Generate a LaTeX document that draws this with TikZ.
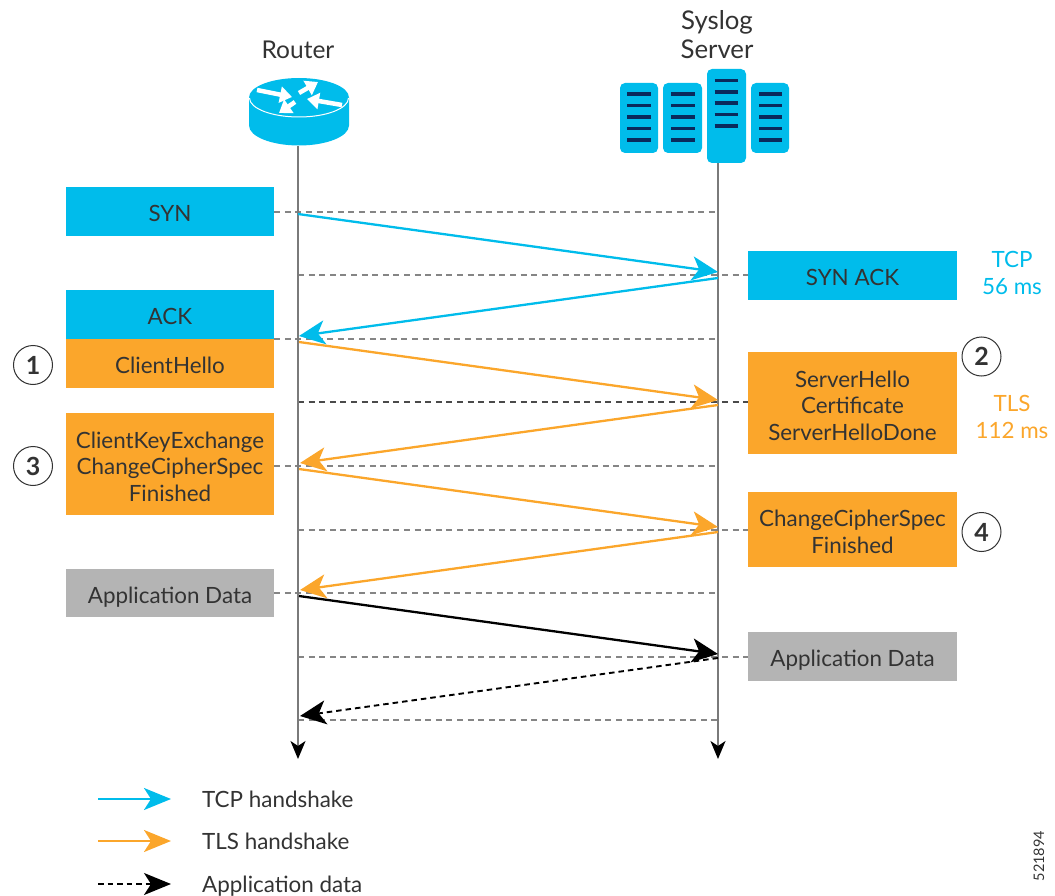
\documentclass[tikz,border=0pt]{standalone}
\usepackage{fontspec}
\setmainfont{Lato}
\usetikzlibrary{arrows.meta}
\definecolor{cblue}{HTML}{00BCEB}
\definecolor{corange}{HTML}{FBA62B}
\definecolor{cgrey}{HTML}{B4B4B4}
\definecolor{cline}{HTML}{7A7A7A}
\definecolor{cdash}{HTML}{858585}
\definecolor{cdashd}{HTML}{4A4A4A}
\definecolor{ctext}{HTML}{333333}
\definecolor{cbar}{HTML}{0A2A5C}
\newcommand{\txt}{\fontsize{22.4}{26.5}\selectfont}
\newcommand{\titletxt}{\fontsize{24.5}{26.5}\selectfont}
\newcommand{\sysltxt}{\fontsize{25.8}{28.8}\selectfont}
\newcommand{\topfix}{\rule{0pt}{21.5pt}}
\tikzset{
  boxbase/.style={minimum width=208.5pt,inner sep=0pt,outer sep=0pt,text=ctext,font=\txt},
  mbox/.style={boxbase,align=center},
  sbox/.style={boxbase,text height=20pt,text depth=0pt},
  lbl/.style={inner sep=0pt,align=center,font=\txt},
  title/.style={inner sep=0pt,align=center,text=ctext,font=\titletxt},
  leg/.style={inner sep=0pt,anchor=west,text=ctext,font=\txt,text height=16pt,text depth=0pt},
  lifeline/.style={draw=cline,line width=2pt,-{Stealth[length=18pt,width=15pt,inset=5pt,color=black]}},
  guide/.style={draw=cdash,line width=1.7pt,dash pattern=on 6pt off 4.6pt},
  guided/.style={guide,draw=cdashd},
  tipk/.style={-{Stealth[length=26pt,width=24pt,inset=7pt]}},
  tcp/.style={draw=cblue,line width=2.3pt,tipk},
  tls/.style={draw=corange,line width=2.3pt,tipk},
  appd/.style={draw=black,line width=2.3pt,tipk},
  appdash/.style={draw=black,line width=1.9pt,dash pattern=on 5.5pt off 4pt,tipk},
  stepnum/.style={draw=ctext,fill=white,circle,line width=1pt,minimum size=39pt,inner sep=0pt,font=\fontsize{25}{25}\selectfont\bfseries,text=ctext},
  rack/.style={fill=cblue,rounded corners=5pt},
  rackbar/.style={draw=cbar,line width=3.4pt},
  whitearrow/.style={draw=white,line width=4.5pt,-{Stealth[length=12pt,width=16pt,inset=0pt]}}
}
\begin{document}
\begin{tikzpicture}[x=1pt,y=-1pt]
\useasboundingbox (0,0) rectangle (1055,896);
\coordinate (rtop) at (298,146);
\coordinate (rend) at (298,759);
\coordinate (stop) at (718,162);
\coordinate (send) at (718,759);
\foreach \n/\y in {1/212,2/275,3/339,4/402,5/466,6/530,7/593,8/657,9/720}{
  \coordinate (r\n) at (298,\y);
  \coordinate (s\n) at (718,\y);
}
% message end points
\coordinate (ma0) at (298,214);  \coordinate (ma1) at (718,272);
\coordinate (mb0) at (718,278);  \coordinate (mb1) at (299,336);
\coordinate (mc0) at (299,342);  \coordinate (mc1) at (718,400);
\coordinate (md0) at (718,405);  \coordinate (md1) at (300,463);
\coordinate (me0) at (299,469);  \coordinate (me1) at (718,527);
\coordinate (mf0) at (718,532);  \coordinate (mf1) at (300,590);
\coordinate (mg0) at (299,596);  \coordinate (mg1) at (718,654);
\coordinate (mh0) at (718,658);  \coordinate (mh1) at (300,716);
% boxes
\node[sbox,fill=cblue,minimum height=49pt] (syn) at (170,211.5) {SYN};
\node[sbox,fill=cblue,minimum height=49pt] (synack) at (852.5,275.5) {SYN ACK};
\node[sbox,fill=cblue,minimum height=49pt] (ack) at (170,314.5) {ACK};
\node[sbox,fill=corange,minimum height=49pt] (chello) at (170,363.5) {ClientHello};
\node[mbox,fill=corange,minimum height=102pt] (shello) at (852.5,403) {\topfix ServerHello\\Certificate\\ServerHelloDone};
\node[mbox,fill=corange,minimum height=102pt] (ckey) at (170,464) {\topfix ClientKeyExchange\\ChangeCipherSpec\\Finished};
\node[mbox,fill=corange,minimum height=75pt] (ccs) at (852.5,529.5) {\topfix ChangeCipherSpec\\Finished};
\node[sbox,fill=cgrey,minimum height=48pt] (appl) at (170,593) {Application Data};
\node[sbox,fill=cgrey,minimum height=49pt] (appr) at (852.5,656.5) {Application Data};
% guides
\draw[guide] (syn.east |- r1) -- (s1);
\draw[guide] (r2) -- (synack.west |- s2);
\draw[guide] (ack.south east) -- (s3);
\draw[guided] (r4) -- (shello.west |- s4);
\draw[guide] (ckey.east |- r5) -- (s5);
\draw[guide] (r6) -- (ccs.west |- s6);
\draw[guide] (appl.east |- r7) -- (s7);
\draw[guide] (r8) -- (appr.west |- s8);
\draw[guide] (r9) -- (s9);
% lifelines
\draw[lifeline] (rtop) -- (rend);
\draw[lifeline] (stop) -- (send);
% messages
\draw[tcp] (ma0) -- (ma1);
\draw[tcp] (mb0) -- (mb1);
\draw[tls] (mc0) -- (mc1);
\draw[tls] (md0) -- (md1);
\draw[tls] (me0) -- (me1);
\draw[tls] (mf0) -- (mf1);
\draw[appd] (mg0) -- (mg1);
\draw[appdash] (mh0) -- (mh1);
% titles
\node[title] (router) at (298,50) {Router};
\node[title,font=\sysltxt] (syslog) at (717,35) {Syslog\\Server};
% router icon
\fill[cblue] (249,97.5) -- (249,125.5) arc[start angle=180,end angle=0,x radius=50,y radius=20] -- (349,97.5) arc[start angle=0,end angle=-180,x radius=50,y radius=19.5] -- cycle;
\draw[white,line width=1pt] (249.5,98) arc[start angle=180,end angle=0,x radius=49.5,y radius=19];
\coordinate (ra1) at (257,90); \coordinate (ra2) at (292,97);
\coordinate (rb1) at (299,93); \coordinate (rb2) at (318,82);
\coordinate (rc1) at (342,105); \coordinate (rc2) at (307,99);
\coordinate (rd1) at (295,102); \coordinate (rd2) at (279,113);
\draw[whitearrow] (ra1) -- (ra2);
\draw[whitearrow] (rb1) -- (rb2);
\draw[whitearrow] (rc1) -- (rc2);
\draw[whitearrow] (rd1) -- (rd2);
% server icon
\fill[rack] (620,83) rectangle (658,153);
\fill[rack] (663,83) rectangle (702,153);
\fill[rack] (707,69) rectangle (746,163);
\fill[rack] (751,83) rectangle (789,153);
\foreach \xa/\xb in {627/651,671/695,759/782}{
  \foreach \y in {94,105.5,117,128.5,140}{
    \draw[rackbar] (\xa,\y) -- (\xb,\y);
  }
}
\foreach \y in {80.5,92,103,114.5,126}{
  \draw[rackbar] (714.5,\y) -- (738,\y);
}
% step markers
\node[stepnum] (n1) at (33,365) {1};
\node[stepnum] (n2) at (981.5,356.5) {2};
\node[stepnum] (n3) at (33,466) {3};
\node[stepnum] (n4) at (981.5,532) {4};
% durations
\node[lbl,text=cblue] (tcpt) at (1012,273) {TCP\\56 ms};
\node[lbl,text=corange] (tlst) at (1012,417) {TLS\\112 ms};
% legend
\coordinate (la0) at (98,799);  \coordinate (la1) at (171,799);
\coordinate (lb0) at (98,841);  \coordinate (lb1) at (171,841);
\coordinate (lc0) at (98,884);  \coordinate (lc1) at (171,884);
\tikzset{legtip/.style={-{Stealth[length=27pt,width=22pt,inset=7pt]}}}
\draw[tcp,legtip] (la0) -- (la1);
\draw[tls,legtip] (lb0) -- (lb1);
\draw[appdash,legtip] (lc0) -- (lc1);
\node[leg] (lega) at (202,799) {TCP handshake};
\node[leg] (legb) at (202,841) {TLS handshake};
\node[leg] (legc) at (202,884) {Application data};
\node[inner sep=0pt,rotate=90,text=ctext,font=\fontsize{14.5}{14.5}\selectfont] (fig) at (1039,856) {521894};
\end{tikzpicture}
\end{document}
